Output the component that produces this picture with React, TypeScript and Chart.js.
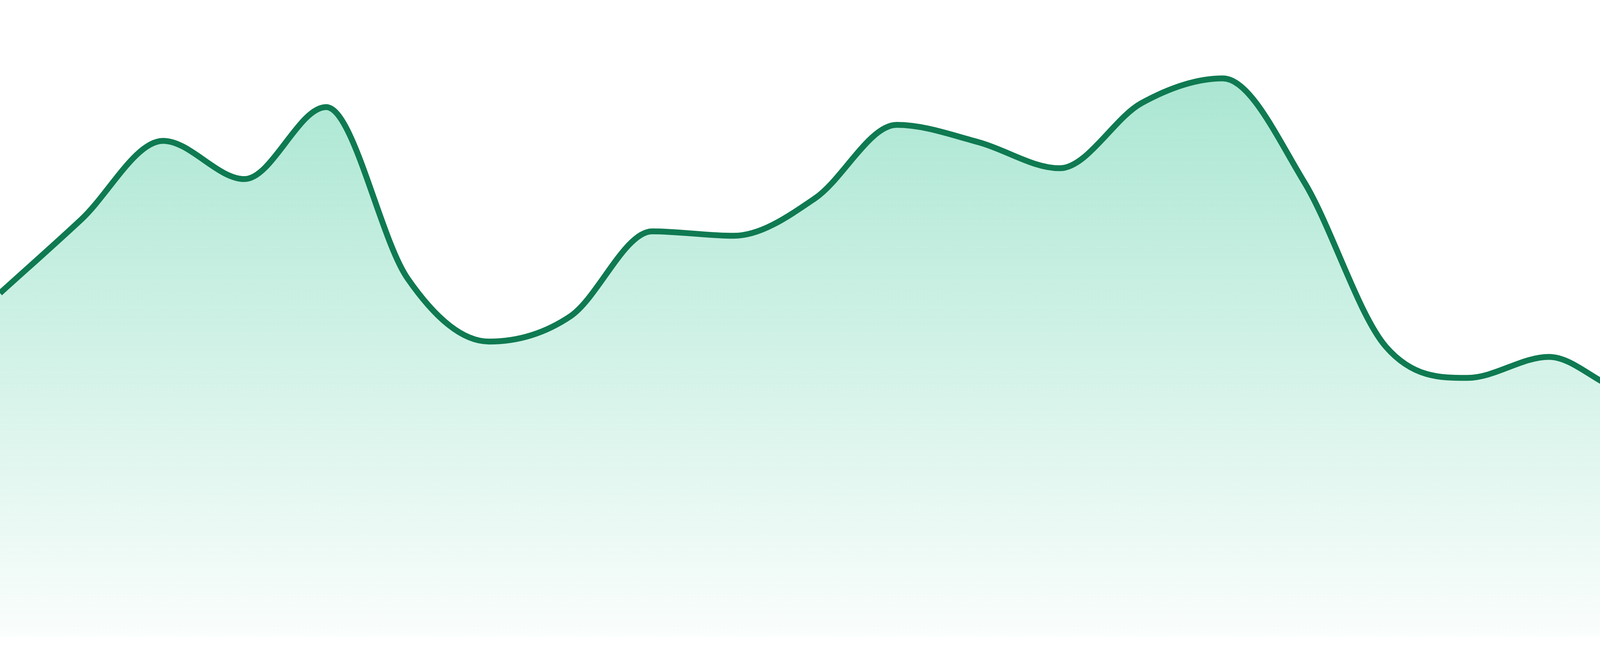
import React, { useEffect, useRef } from "react";
import { Chart, registerables } from "chart.js";

Chart.register(...registerables);

const hours: string[] = [
  "00:00", "01:00", "02:00", "03:00", "04:00", "05:00", "06:00", "07:00",
  "08:00", "09:00", "10:00", "11:00", "12:00", "13:00", "14:00", "15:00",
  "16:00", "17:00", "18:00", "19:00", "20:00", "21:00", "22:00", "23:00",
];

const values: number[] = [
  54.0, 65.6, 77.9, 71.9, 83.2, 56.3, 46.4, 50.4,
  63.7, 63.0, 68.9, 80.4, 77.7, 73.6, 83.8, 87.7,
  71.4, 45.6, 40.7, 44.0, 38.6, 42.1, 38.9, 35.5,
];

const yMin = 0;
const yMax = 100;

export default function App() {
  const ref = useRef<HTMLCanvasElement | null>(null);

  useEffect(() => {
    document.body.style.margin = "0";
    const canvas = ref.current;
    if (!canvas) return;
    const chart = new Chart(canvas, {
      type: "line",
      data: {
        labels: hours,
        datasets: [
          {
            data: values,
            borderColor: "#0f7a52",
            borderWidth: 15,
            cubicInterpolationMode: "monotone",
            pointRadius: 0,
            pointHoverRadius: 0,
            fill: "origin",
            backgroundColor: (ctx: any) => {
              const area = ctx.chart.chartArea;
              if (!area) return "rgba(16,185,129,0.3)";
              const g = ctx.chart.ctx.createLinearGradient(0, 0, 0, area.bottom);
              g.addColorStop(0, "rgba(16,185,129,0.40)");
              g.addColorStop(1, "rgba(16,185,129,0.02)");
              return g;
            },
          },
        ],
      },
      options: {
        animation: false,
        responsive: false,
        devicePixelRatio: 1,
        layout: { padding: { top: 0, left: 0, right: 0, bottom: 48 } },
        plugins: { legend: { display: false }, tooltip: { enabled: false } },
        scales: {
          x: { display: false, offset: false },
          y: { display: false, min: yMin, max: yMax },
        },
      },
    });
    return () => chart.destroy();
  }, []);

  return (
    <div style={{ position: "absolute", left: 0, top: 0, width: 4800, height: 1680, background: "#ffffff" }}>
      <canvas ref={ref} width={4800} height={1680} style={{ display: "block", width: 4800, height: 1680 }} />
    </div>
  );
}
